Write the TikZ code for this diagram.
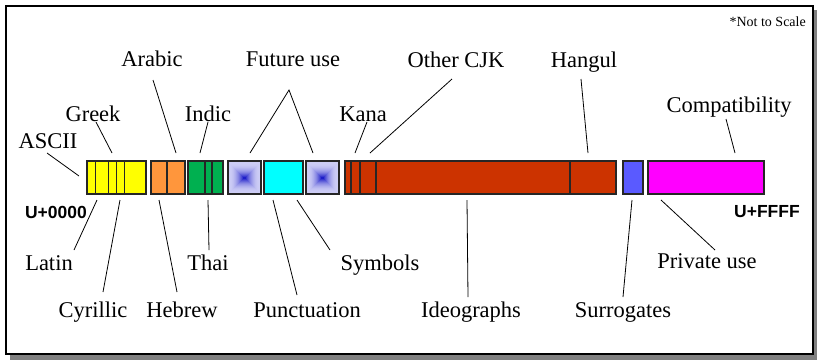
\documentclass[tikz,border=0pt]{standalone}
\usepackage{fontspec}
\setmainfont{Liberation Serif}
\newfontfamily\codefont{Liberation Sans}
\definecolor{segyellow}{RGB}{255,255,0}
\definecolor{segorange}{RGB}{255,150,60}
\definecolor{seggreen}{RGB}{0,176,80}
\definecolor{segcyan}{RGB}{0,255,255}
\definecolor{segred}{RGB}{204,51,0}
\definecolor{segsur}{RGB}{90,90,255}
\definecolor{segmag}{RGB}{255,0,255}
\definecolor{lav}{RGB}{205,205,245}
\definecolor{deepblue}{RGB}{30,30,200}
\definecolor{shadowgray}{RGB}{128,128,128}
\tikzset{
  lbl/.style={anchor=base, inner sep=0pt, font=\fontsize{22.5}{24}\selectfont},
  code/.style={anchor=base, inner sep=0pt, font=\codefont\bfseries\fontsize{17.5}{18}\selectfont},
  seg/.style={draw=black!85, line width=1.2pt, inner sep=0pt, minimum height=33pt},
  conn/.style={draw=black, line width=0.8pt},
  divider/.style={draw=black!85, line width=1.2pt}
}
\begin{document}
\begin{tikzpicture}[x=1pt,y=-1pt]
\useasboundingbox (0,0) rectangle (817,360);
% frame with shadow
\fill[shadowgray] (10,10) rectangle (817,360);
\draw[line width=1.5pt, fill=white] (6,6) rectangle (813,354);
\node[anchor=base east, inner sep=0pt, font=\fontsize{14}{15}\selectfont] (nts) at (806,26) {*Not to Scale};

% bar segments
\node[seg, fill=segyellow, minimum width=59pt] (yel) at (116.5,177.5) {};
\draw[divider] (95.7,161) -- (95.7,194) (108.3,161) -- (108.3,194) (116.7,161) -- (116.7,194) (124.3,161) -- (124.3,194);
\node[seg, fill=segorange, minimum width=34pt] (ora) at (168,177.5) {};
\draw[divider] (167,161) -- (167,194);
\node[seg, fill=seggreen, minimum width=35pt] (gre) at (205.5,177.5) {};
\draw[divider] (205,161) -- (205,194) (212,161) -- (212,194);
% future use boxes with square gradient
\foreach \cx/\nm in {244.5/fu1, 322.5/fu2}{
  \node[seg, fill=lav, minimum width=33pt] (\nm) at (\cx,177.5) {};
  \foreach \i in {1,...,15}{
    \pgfmathtruncatemacro{\p}{100*(\i/15)^2.2}
    \fill[deepblue!\p!lav] (\cx-16.5+\i,161.5+\i) rectangle (\cx+16.5-\i,193.5-\i);
  }
  \draw[draw=black!85, line width=1.2pt] (\cx-16.5,161) rectangle (\cx+16.5,194);
}
\node[seg, fill=segcyan, minimum width=39pt] (cya) at (283.5,177.5) {};
\node[seg, fill=segred, minimum width=271pt] (red) at (480.5,177.5) {};
\draw[divider] (351,161) -- (351,194) (360,161) -- (360,194) (376,161) -- (376,194) (570,161) -- (570,194);
\node[seg, fill=segsur, minimum width=20pt] (sur) at (633,177.5) {};
\node[seg, fill=segmag, minimum width=116pt] (mag) at (706,177.5) {};

% code point labels
\node[code] (u0) at (56,218) {U+0000};
\node[code] (uf) at (767,217) {U+FFFF};

% top labels
\node[lbl] (ascii) at (48,148) {ASCII};
\node[lbl] (greek) at (93,121) {Greek};
\node[lbl] (arabic) at (152,66) {Arabic};
\node[lbl] (indic) at (208,121) {Indic};
\node[lbl] (future) at (293,66) {Future use};
\node[lbl] (kana) at (363,121) {Kana};
\node[lbl] (cjk) at (456,67) {Other CJK};
\node[lbl] (hangul) at (584,67) {Hangul};
\node[lbl] (compat) at (729,112) {Compatibility};
% bottom labels
\node[lbl] (latin) at (49,270) {Latin};
\node[lbl] (thai) at (208,270) {Thai};
\node[lbl] (symbols) at (380,270) {Symbols};
\node[lbl] (private) at (707,268) {Private use};
\node[lbl] (cyrillic) at (93,317) {Cyrillic};
\node[lbl] (hebrew) at (182,317) {Hebrew};
\node[lbl] (punct) at (307,317) {Punctuation};
\node[lbl] (ideo) at (471,317) {Ideographs};
\node[lbl] (surr) at (623,317) {Surrogates};

% connector end points
\coordinate (ascii-a) at (47,153);   \coordinate (ascii-b) at (79,176);
\coordinate (greek-a) at (96,122);   \coordinate (greek-b) at (112,153);
\coordinate (arabic-a) at (153,80);  \coordinate (arabic-b) at (176,153);
\coordinate (indic-a) at (208,122);  \coordinate (indic-b) at (200,153);
\coordinate (future-a) at (289,90);  \coordinate (future-b) at (250,153); \coordinate (future-c) at (313,153);
\coordinate (kana-a) at (367,122);   \coordinate (kana-b) at (355,153);
\coordinate (cjk-a) at (452,79);     \coordinate (cjk-b) at (370,153);
\coordinate (hangul-a) at (581,79);  \coordinate (hangul-b) at (588,153);
\coordinate (compat-a) at (726,119); \coordinate (compat-b) at (735,153);
\coordinate (latin-a) at (97,200);   \coordinate (latin-b) at (74,250);
\coordinate (cyr-a) at (120,200);    \coordinate (cyr-b) at (103,292);
\coordinate (heb-a) at (159,200);    \coordinate (heb-b) at (177,292);
\coordinate (thai-a) at (208,200);   \coordinate (thai-b) at (209,250);
\coordinate (punct-a) at (273,200);  \coordinate (punct-b) at (297,295);
\coordinate (sym-a) at (297,200);    \coordinate (sym-b) at (330,250);
\coordinate (ideo-a) at (467,200);   \coordinate (ideo-b) at (468,297);
\coordinate (surr-a) at (632,200);   \coordinate (surr-b) at (623,297);
\coordinate (priv-a) at (661,200);   \coordinate (priv-b) at (715,250);

\draw[conn] (ascii-a) -- (ascii-b);
\draw[conn] (greek-a) -- (greek-b);
\draw[conn] (arabic-a) -- (arabic-b);
\draw[conn] (indic-a) -- (indic-b);
\draw[conn] (future-b) -- (future-a) -- (future-c);
\draw[conn] (kana-a) -- (kana-b);
\draw[conn] (cjk-a) -- (cjk-b);
\draw[conn] (hangul-a) -- (hangul-b);
\draw[conn] (compat-a) -- (compat-b);
\draw[conn] (latin-a) -- (latin-b);
\draw[conn] (cyr-a) -- (cyr-b);
\draw[conn] (heb-a) -- (heb-b);
\draw[conn] (thai-a) -- (thai-b);
\draw[conn] (punct-a) -- (punct-b);
\draw[conn] (sym-a) -- (sym-b);
\draw[conn] (ideo-a) -- (ideo-b);
\draw[conn] (surr-a) -- (surr-b);
\draw[conn] (priv-a) -- (priv-b);
\end{tikzpicture}
\end{document}
